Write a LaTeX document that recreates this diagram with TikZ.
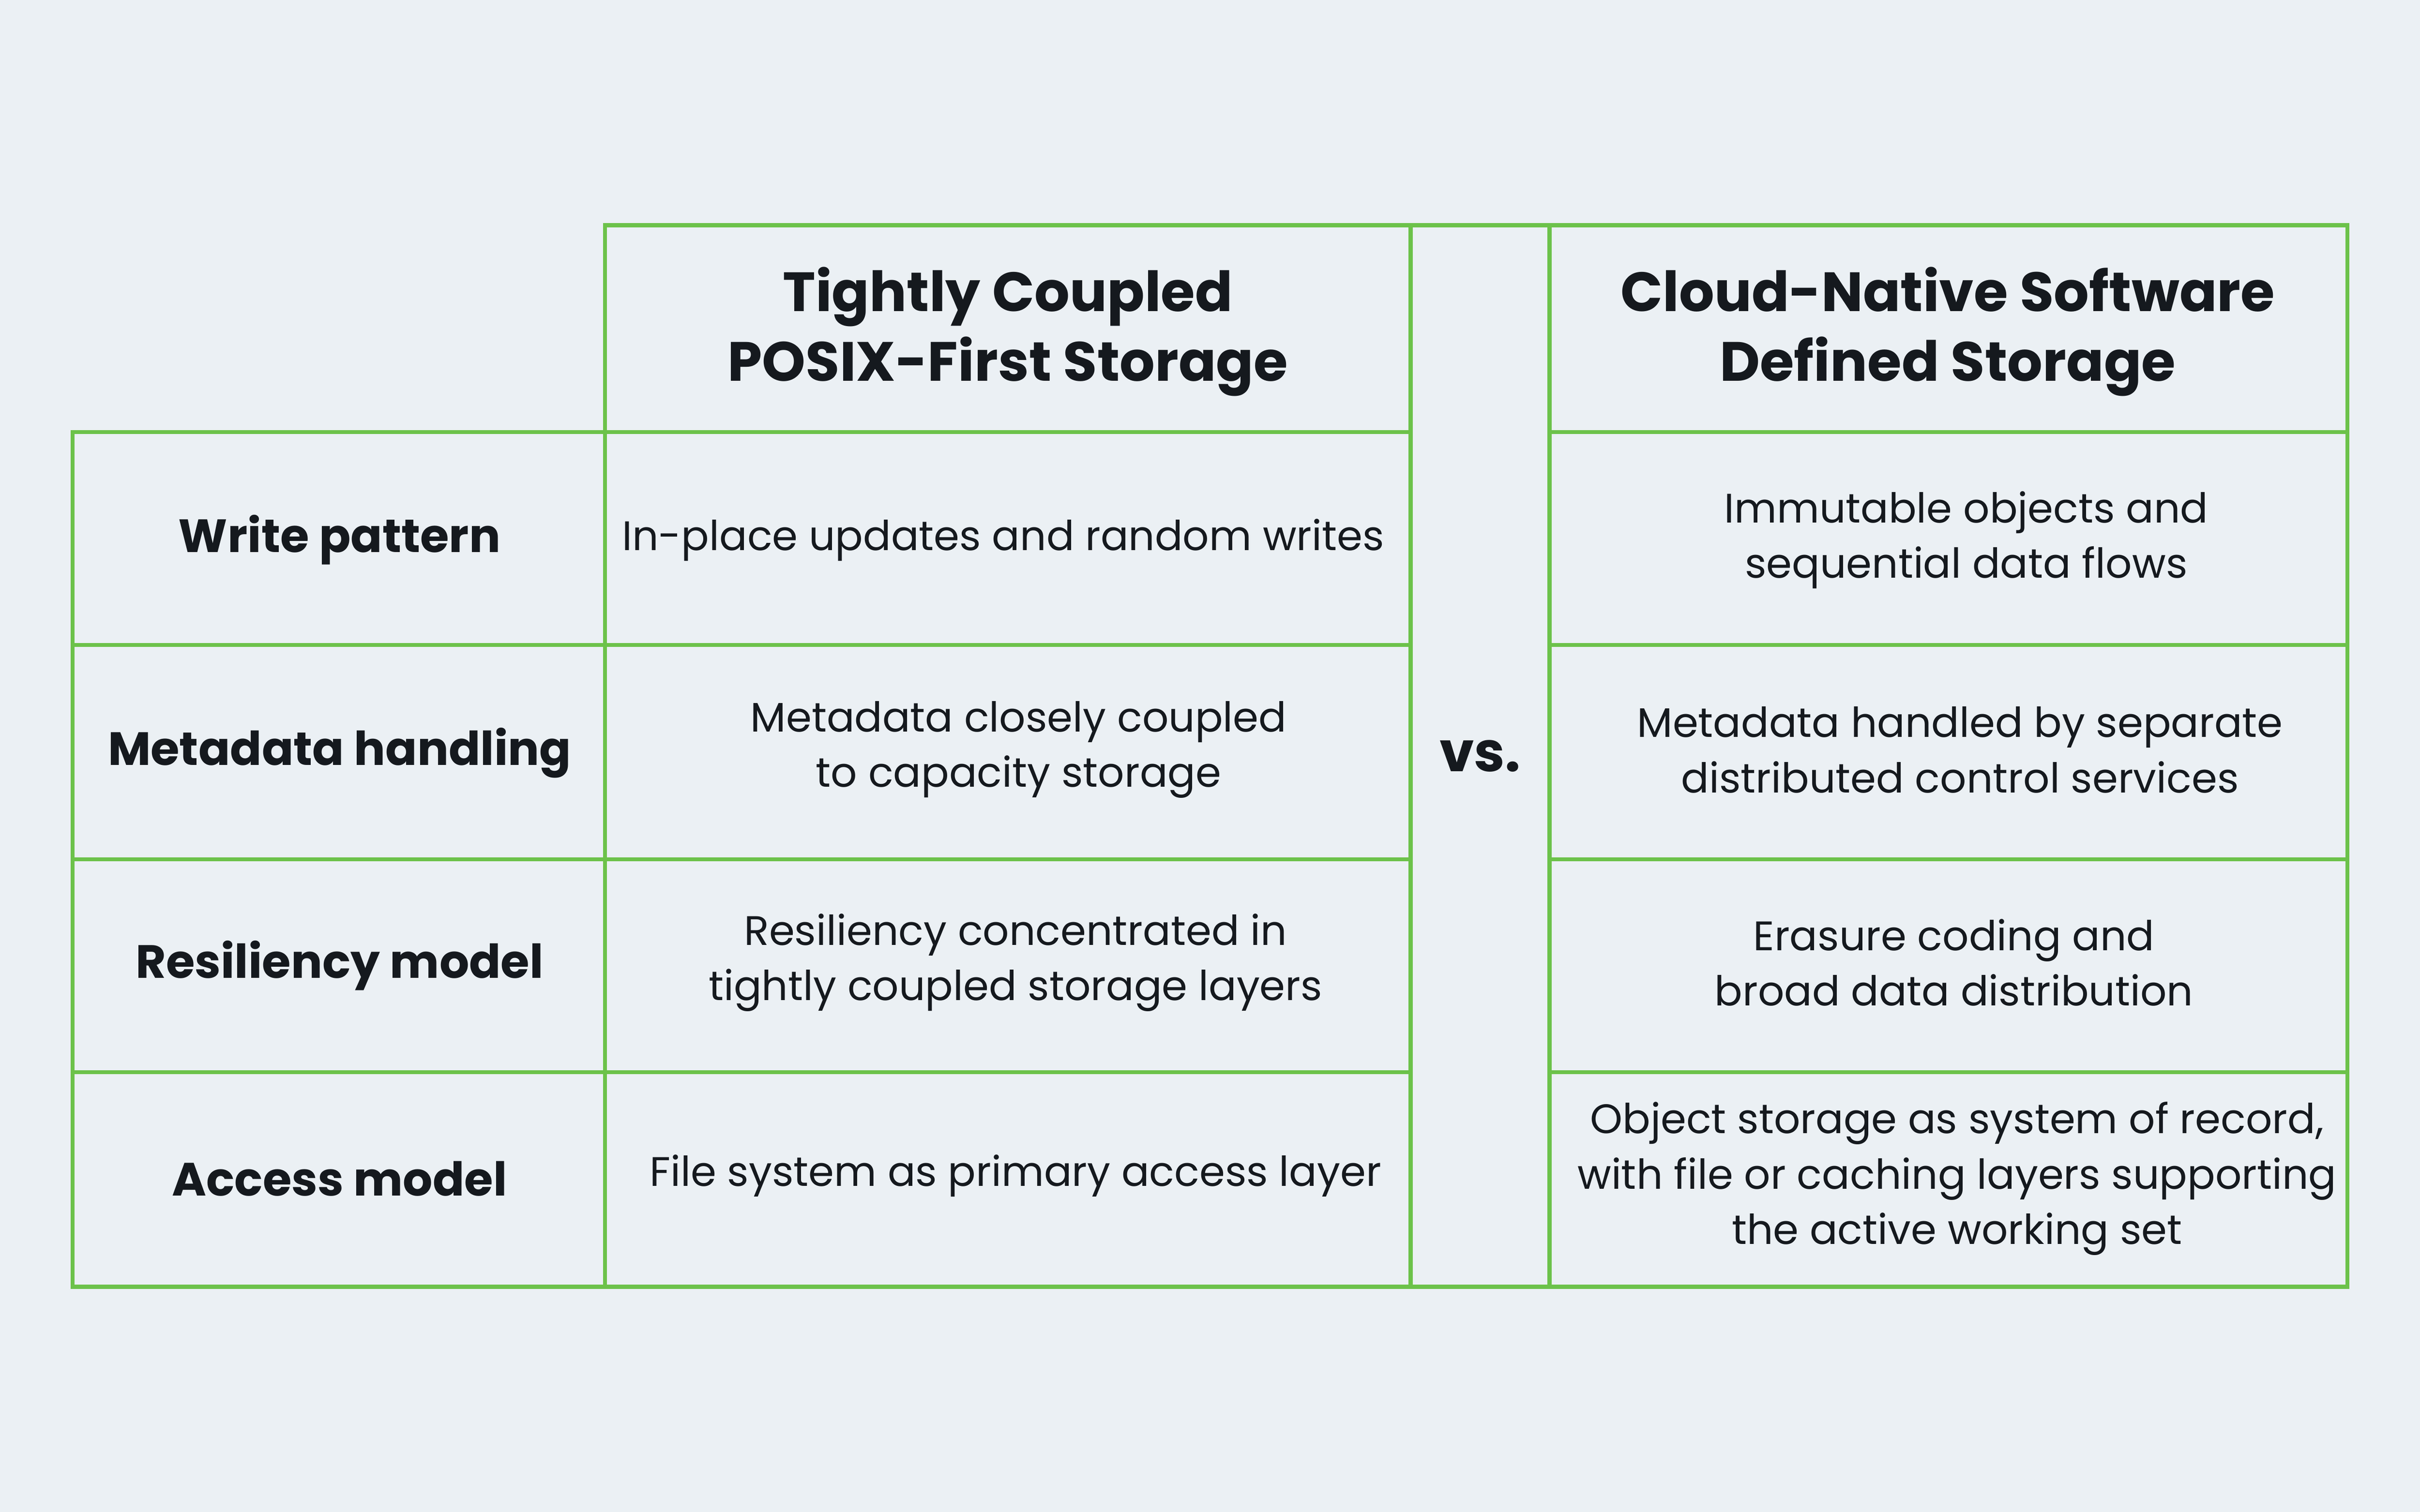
\documentclass[tikz,border=0pt]{standalone}
\usepackage{fontspec}
\setmainfont{Poppins}
\begin{document}
\begin{tikzpicture}[x=0.01cm,y=-0.01cm,
  cell/.style={draw=gridgreen,line width=0.75pt},
  head/.style={font=\fontsize{10.2}{12.8}\selectfont\bfseries,text=ink,align=center},
  rowlab/.style={font=\fontsize{8.6}{10}\selectfont\bfseries,text=ink,align=center},
  body/.style={font=\fontsize{7.6}{10.2}\selectfont,text=ink,align=center}]
\definecolor{gridgreen}{HTML}{6CC24A}
\definecolor{ink}{HTML}{15191E}
\definecolor{bg}{HTML}{EBF0F4}
\fill[bg] (0,0) rectangle (1568,980);
\useasboundingbox (0,0) rectangle (1568,980);
% header cells
\draw[cell] (392,146) rectangle (914,280);
\draw[cell] (1004,146) rectangle (1521,280);
\draw[cell] (914,146) rectangle (1004,834);
\foreach \a/\b in {280/418,418/557,557/695,695/834}{
  \draw[cell] (47,\a) rectangle (392,\b);
  \draw[cell] (392,\a) rectangle (914,\b);
  \draw[cell] (1004,\a) rectangle (1521,\b);
}
\node[head] (h1) at (653,215) {Tightly Coupled\\POSIX-First Storage};
\node[head] (h2) at (1262,215) {Cloud-Native Software\\Defined Storage};
\node[font=\fontsize{10.2}{12}\selectfont\bfseries,text=ink] (vs) at (959,490) {vs.};
\node[rowlab] (r1) at (220,350) {Write pattern};
\node[rowlab] (r2) at (220,488) {Metadata handling};
\node[rowlab] (r3) at (220,626) {Resiliency model};
\node[rowlab] (r4) at (220,764) {Access model};
\node[body] (a1) at (650,350) {In-place updates and random writes};
\node[body] (a2) at (660,486) {Metadata closely coupled\\to capacity storage};
\node[body] (a3) at (658,624) {Resiliency concentrated in\\tightly coupled storage layers};
\node[body] (a4) at (658,762) {File system as primary access layer};
\node[body] (b1) at (1274,350) {Immutable objects and\\sequential data flows};
\node[body] (b2) at (1270,486) {Metadata handled by separate\\distributed control services};
\node[body] (b3) at (1266,624) {Erasure coding and\\broad data distribution};
\node[body] (b4) at (1268,764) {Object storage as system of record,\\with file or caching layers supporting\\the active working set};
\end{tikzpicture}
\end{document}
